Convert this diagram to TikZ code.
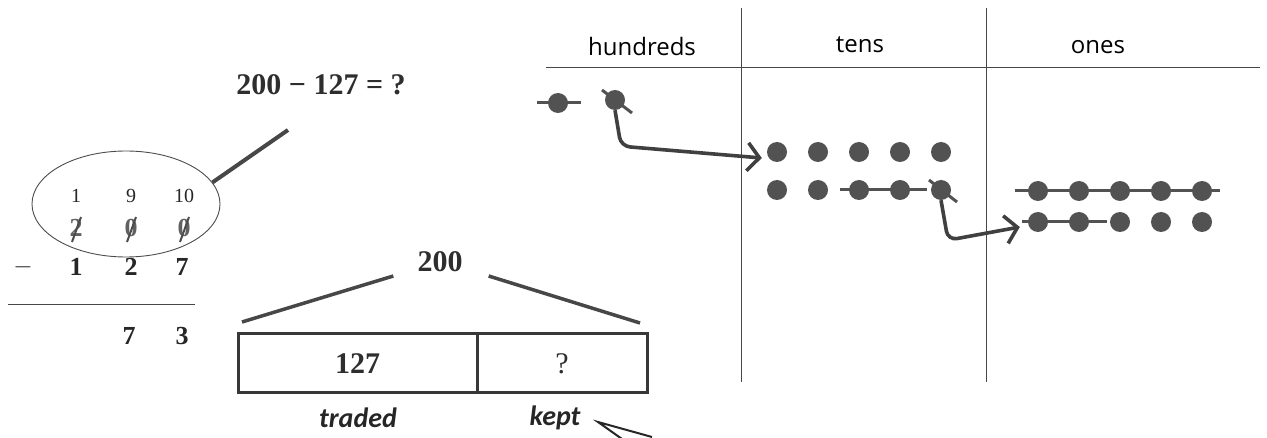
\documentclass[tikz,border=0pt]{standalone}
\usepackage{fontspec}
\setsansfont{Open Sans}
\newfontfamily\tagfont{Carlito}
\newfontfamily\numfont{Liberation Serif}
\usetikzlibrary{arrows.meta,positioning,shapes.geometric}

\tikzset{
  dot/.style={circle,fill=black!68,inner sep=0pt,minimum size=20pt},
  rule/.style={draw=black!72,line width=0.9pt},
  thickline/.style={draw=black!72,line width=4pt},
  linkline/.style={draw=black!68,line width=3pt},
  strike/.style={draw=black!70,line width=2pt},
  handarrow/.style={draw=black!75,line width=3.6pt,rounded corners=9pt,
    -{Straight Barb[length=12pt,width=28pt]}},
  header/.style={font=\sffamily\fontsize{24}{28}\selectfont,text=black},
  small/.style={font=\numfont\fontsize{20}{22}\selectfont,text=black!85,inner sep=0pt},
  digit/.style={font=\numfont\fontsize{26}{28}\selectfont\bfseries,text=black!85,inner sep=0pt},
  crossed/.style={digit,text=black!62},
  big/.style={font=\numfont\fontsize{30}{32}\selectfont\bfseries,text=black!82,inner sep=0pt},
  cell/.style={draw=black!78,line width=3pt,minimum height=59pt,outer sep=0pt,
    inner sep=0pt,font=\numfont\fontsize{30}{32}\selectfont,text=black!82},
  tag/.style={font=\tagfont\bfseries\itshape\fontsize{28}{30}\selectfont,text=black!85},
}

\begin{document}
\begin{tikzpicture}[x=1pt,y=-1pt]
\useasboundingbox (0,0) rectangle (1267,438);
%----------column subtraction-------------------
\node[small] (r1a) at (76,196) {1};
\node[small] (r1b) at (131,196) {9};
\node[small] (r1c) at (184,196) {10};
\node[crossed] (r2a) at (76,228) {2};
\node[crossed] (r2b) at (131,228) {0};
\node[crossed] (r2c) at (184,228) {0};
\foreach \n in {a,b,c}
  \draw[strike] ([shift={(-4pt,-14pt)}]r2\n.center) -- ([shift={(5pt,11pt)}]r2\n.center);
\node[digit] (sign) at (23,267) {$-$};
\node[digit] (r3a) at (76,267) {1};
\node[digit] (r3b) at (131,267) {2};
\node[digit] (r3c) at (182,267) {7};
\coordinate (barL) at (8,304);
\coordinate (barR) at (195,304);
\draw[rule] (barL) -- (barR);
\node[digit] (ansb) at (129,336) {7};
\node[digit] (ansc) at (182,336) {3};
%----------loop and pointer---------------------
\node[draw=black!70,line width=0.9pt,ellipse,minimum width=188pt,minimum height=106pt] (loop) at (126,204) {};
\node[big] (eq) at (321,85) {200 − 127 = ?};
\coordinate (looptip) at (288,130);
\draw[thickline] (loop.14) -- (looptip);
%----------bar model----------------------------
\node[big] (whole) at (440,262) {200};
\node[cell,minimum width=239pt] (part1) at (357.5,363.5) {\bfseries 127};
\node[cell,minimum width=170pt,right=0pt of part1] (part2) {?};
\draw[thickline,line width=3.5pt] ([shift={(4pt,12pt)}]part1.north west) -- ([shift={(-24pt,-14pt)}]whole.west);
\draw[thickline,line width=3.5pt] ([shift={(26pt,-14pt)}]whole.east) -- ([shift={(-7pt,11pt)}]part2.north east);
\node[tag] (traded) at (358,418) {traded};
\node[tag] (kept) at (555,418) {kept};
\coordinate (callout) at (598,422);
\draw[draw=black!85,line width=2pt] (652,437) -- (callout) -- (622,439);
%----------place value chart--------------------
\draw[rule] (741,8) -- (741,382);
\draw[rule] (986,8) -- (986,382);
\draw[rule] (546,67) -- (1260,67);
\node[header] (hundreds) at (642,47) {hundreds};
\node[header] (tens) at (860,45) {tens};
\node[header] (ones) at (1098,47) {ones};
%----------dots---------------------------------
\node[dot] (h1) at (558,103) {};
\node[dot] (h2) at (615,100) {};
\foreach \i in {1,...,5} {
  \node[dot] (ta\i) at ({777+41*(\i-1)},152) {};
  \node[dot] (tb\i) at ({777+41*(\i-1)},190) {};
  \node[dot] (oa\i) at ({1038+41*(\i-1)},191) {};
  \node[dot] (ob\i) at ({1038+41*(\i-1)},222) {};
}
%----------trades-------------------------------
\draw[linkline] ([xshift=-21pt]h1.center) -- ([xshift=23pt]h1.center);
\draw[linkline] ([shift={(-13pt,10pt)}]h2.center) -- ([shift={(17pt,-13pt)}]h2.center);
\draw[linkline] ([xshift=-19pt]tb3.center) -- ([xshift=27pt]tb4.center);
\draw[linkline] ([shift={(-12pt,10pt)}]tb5.center) -- ([shift={(16pt,-12pt)}]tb5.center);
\draw[linkline] ([xshift=-23pt]oa1.center) -- ([xshift=18pt]oa5.center);
\draw[linkline] ([xshift=-16pt]ob1.center) -- ([xshift=28pt]ob2.center);
\draw[handarrow] (h2.south) -- ++(6,36) -- ([shift={(-5pt,-6pt)}]ta1.west);
\draw[handarrow] (tb5.south) -- ++(7,40) -- ([shift={(-8pt,-5pt)}]ob1.west);
\end{tikzpicture}
\end{document}
